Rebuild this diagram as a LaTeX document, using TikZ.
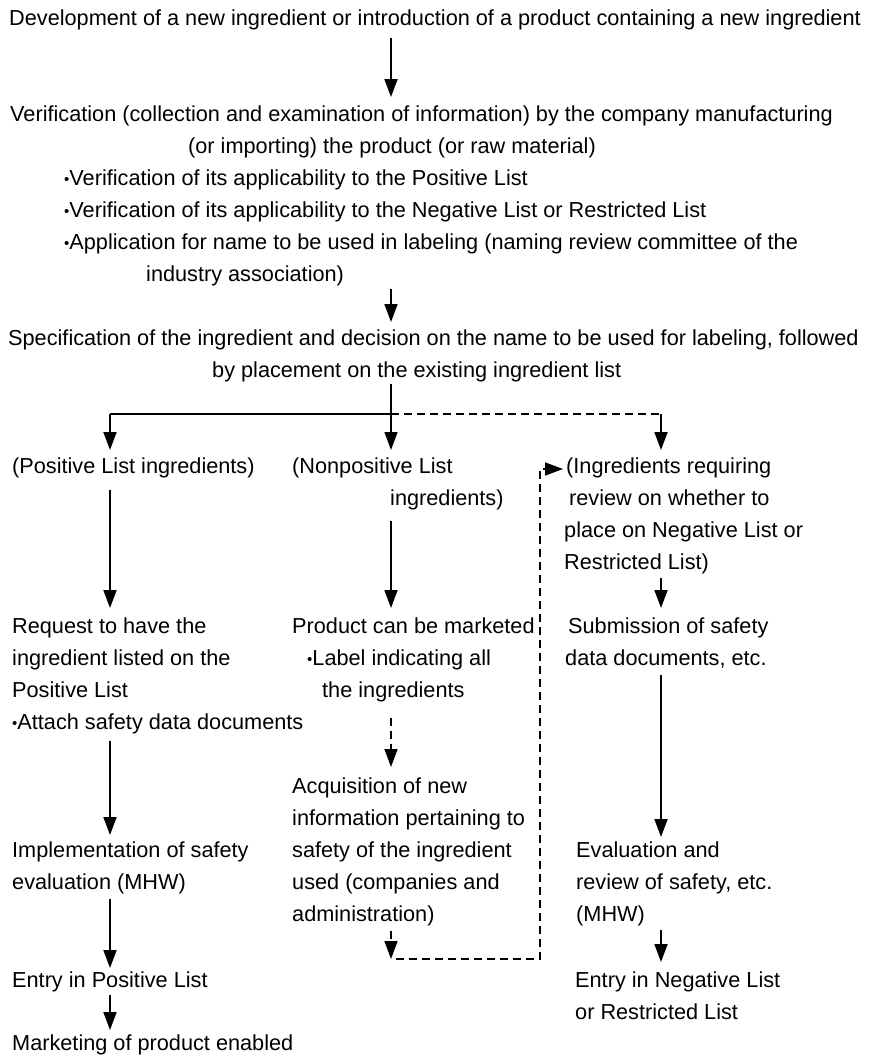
\documentclass[tikz,border=0pt]{standalone}
\usepackage{fontspec}
\setmainfont{Liberation Sans}
\usetikzlibrary{arrows.meta,calc}
\newcommand\smbul{\raisebox{1.2pt}{\fontsize{15}{15}\selectfont •}}
\begin{document}
\begin{tikzpicture}[x=1pt,y=-1pt,
  txt/.style={anchor=north west,inner sep=0pt,align=left,font=\fontsize{21.7}{32}\selectfont},
  ctxt/.style={anchor=center,inner sep=0pt,font=\fontsize{21.7}{32}\selectfont},
  tip/.style={-{Triangle[width=13pt,length=18pt]}},
  arr/.style={line width=1.8pt,tip},
  thinarr/.style={line width=1.2pt,tip},
  dln/.style={line width=1.5pt,dash pattern=on 8pt off 5pt},
  darr/.style={dln,tip}]
\useasboundingbox (0,0) rectangle (868,1055);
\coordinate (cx) at (391,0);
\coordinate (lx) at (110,0);
\coordinate (rx) at (661,0);
\coordinate (lpx) at (540,0);

\node[ctxt] (top) at (435,20) {Development of a new ingredient or introduction of a product containing a new ingredient};

\node[txt] (verif) at (10,106) {Verification (collection and examination of information) by the company manufacturing\\
\hspace*{178pt}(or importing) the product (or raw material)\\
\hspace*{54pt}\smbul Verification of its applicability to the Positive List\\
\hspace*{54pt}\smbul Verification of its applicability to the Negative List or Restricted List\\
\hspace*{54pt}\smbul Application for name to be used in labeling (naming review committee of the\\
\hspace*{136pt}industry association)};

\node[txt] (spec) at (8,330) {Specification of the ingredient and decision on the name to be used for labeling, followed\\
\hspace*{204pt}by placement on the existing ingredient list};

\node[txt] (L1) at (12,458) {(Positive List ingredients)};
\node[txt] (M1) at (292,458) {(Nonpositive List\\ \hspace*{98pt}ingredients)};
\node[txt] (R1) at (566,458) {(Ingredients requiring\\
\hspace*{3pt}review on whether to\\
\hspace*{-2pt}place on Negative List or\\
\hspace*{-2pt}Restricted List)};

\node[txt] (L2) at (12,618) {Request to have the\\ ingredient listed on the\\ Positive List\\ \smbul Attach safety data documents};
\node[txt] (M2) at (292,618) {Product can be marketed\\ \hspace*{15pt}\smbul Label indicating all\\ \hspace*{30pt}the ingredients};
\node[txt] (R2) at (568,618) {Submission of safety\\ \hspace*{-3pt}data documents, etc.};

\node[txt] (M3) at (292,778) {Acquisition of new\\ information pertaining to\\ safety of the ingredient\\ used (companies and\\ administration)};
\node[txt] (L3) at (12,842) {Implementation of safety\\ evaluation (MHW)};
\node[txt] (R3) at (576,842) {Evaluation and\\ review of safety, etc.\\ (MHW)};

\node[txt] (L4) at (12,972) {Entry in Positive List};
\node[txt] (L5) at (12,1035) {Marketing of product enabled};
\node[txt] (R4) at (575,972) {Entry in Negative List\\ or Restricted List};

% main flow
\draw[arr,shorten <=8pt,shorten >=9pt] (top.south -| cx) -- (verif.north -| cx);
\draw[arr,shorten <=2pt,shorten >=8pt] (verif.south -| cx) -- (spec.north -| cx);

% branching
\coordinate (br) at (391,414);
\coordinate (brL) at (110,414);
\coordinate (brR) at (661,414);
\draw[line width=1.2pt,shorten <=1pt] (spec.south -| cx) -- (br);
\draw[line width=1.5pt] (brL) -- (br);
\draw[dln] (br) -- (brR);
\draw[arr,shorten >=8pt] (brL) -- (L1.north -| lx);
\draw[thinarr,shorten >=8pt] (br) -- (M1.north -| cx);
\draw[arr,shorten >=8pt] (brR) -- (R1.north -| rx);

% left column
\draw[arr,shorten <=11pt,shorten >=10pt] (L1.south -| lx) -- (L2.north -| lx);
\draw[arr,shorten <=6pt,shorten >=7pt] (L2.south -| lx) -- (L3.north -| lx);
\draw[arr,shorten <=4pt,shorten >=4pt] (L3.south -| lx) -- (L4.north -| lx);
\draw[arr,shorten <=2pt,shorten >=5pt] (L4.south -| lx) -- (L5.north -| lx);

% middle column
\draw[arr,shorten <=10pt,shorten >=10pt] (M1.south -| cx) -- (M2.north -| cx);
\draw[darr,shorten <=15pt,shorten >=11pt] (M2.south -| cx) -- (M3.north -| cx);
\coordinate (loop) at (391,959);
\draw[darr,shorten <=4pt] (M3.south -| cx) -- (loop);
\coordinate (rtgt) at ($(R1.north west)+(-3,11)$);
\draw[dln,tip] ($(loop)+(5,0)$) -- (loop -| lpx) -- (lpx |- rtgt) -- (rtgt);

% right column
\draw[arr,shorten <=3pt,shorten >=10pt] (R1.south -| rx) -- (R2.north -| rx);
\draw[arr,shorten <=6pt,shorten >=5pt] (R2.south -| rx) -- (R3.north -| rx);
\draw[arr,shorten <=3pt,shorten >=10pt] (R3.south -| rx) -- (R4.north -| rx);
\end{tikzpicture}
\end{document}
